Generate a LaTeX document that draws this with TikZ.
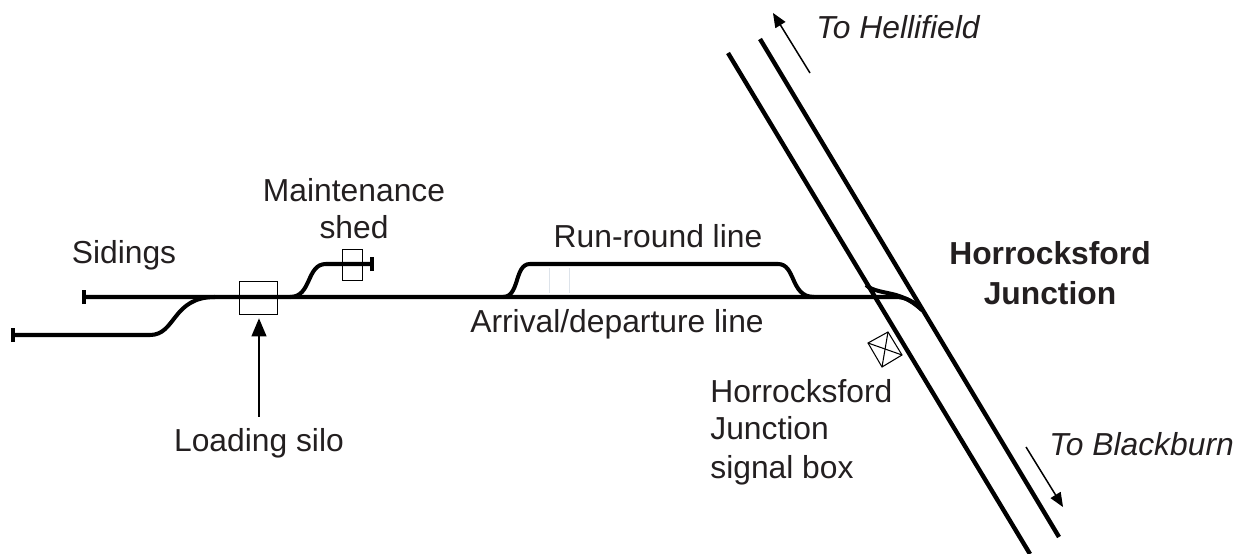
\documentclass[tikz,border=0pt]{standalone}
\usepackage{fontspec}
\setmainfont{Liberation Sans}
\usetikzlibrary{arrows}
\definecolor{inktext}{HTML}{231F20}
\definecolor{faintmark}{HTML}{DDE3EA}

\begin{document}
\begin{tikzpicture}[x=0.02cm, y=-0.02cm, >=triangle 45]
\tikzstyle{every node}=[font=\fontsize{18.1}{20}\selectfont, text=inktext, anchor=base];
\tikzstyle{track}=[line width=2.3pt];
\tikzstyle{mainline}=[line width=2.5pt];
\tikzstyle{stopblock}=[line width=2.5pt];
\tikzstyle{pointer}=[->, line width=0.85pt];
\tikzstyle{building}=[draw, line width=0.55pt, inner sep=0pt, anchor=center];
\useasboundingbox (0,0) rectangle (1244,554);
% tracks
\coordinate (upend1) at (728,53);
\coordinate (downend1) at (1030,554);
\coordinate (upend2) at (760,39);
\coordinate (downend2) at (1059,537);
\coordinate (sidingend) at (84,297);
\coordinate (lowerend) at (13,335);
\coordinate (shedend) at (372,264);
\coordinate (juncend) at (922,310);
\coordinate (juncstart) at (866,285);
\draw [mainline] (upend1) -- (downend1);
\draw [mainline] (upend2) -- (downend2);
\draw [track] (sidingend) -- (895,297) .. controls (907,297) and (914,302) .. (juncend);
\draw [track] (juncstart) .. controls (872,291) and (885,292) .. (896,295) .. controls (906,298) and (913,302) .. (juncend);
\draw [track] (lowerend) -- (150,335) .. controls (176,335) and (172,297) .. (215,297);
\draw [track] (290,297) .. controls (312,297) and (306,264) .. (326,264) -- (shedend);
\draw [track] (503,297) .. controls (520,297) and (514,264) .. (530,264) -- (778,264) .. controls (796,264) and (790,297) .. (814,297);
% stop blocks
\draw [stopblock] ([yshift=-4pt]sidingend) -- ([yshift=4pt]sidingend);
\draw [stopblock] ([yshift=-4pt]lowerend) -- ([yshift=4pt]lowerend);
\draw [stopblock] ([yshift=-4pt]shedend) -- ([yshift=4pt]shedend);
% faint marks
\draw [line width=0.5pt, faintmark] (549,268) -- (549,293);
\draw [line width=0.5pt, faintmark] (569,268) -- (569,293);
% buildings
\node [building, minimum width=38*0.02cm, minimum height=33*0.02cm] (silo) at (258,297.5) {};
\node [building, minimum width=20*0.02cm, minimum height=31*0.02cm] (shed) at (352,264.5) {};
\coordinate (boxa) at (868,343);
\coordinate (boxb) at (888,332);
\coordinate (boxc) at (902,355);
\coordinate (boxd) at (882,367);
\draw [line width=0.6pt] (boxa) -- (boxb) -- (boxc) -- (boxd) -- cycle;
\draw [line width=0.6pt] (boxa) -- (boxc);
\draw [line width=0.6pt] (boxb) -- (boxd);
% labels
\node (sidings) at (124,263) {Sidings};
\node (maint1) at (354,201) {Maintenance};
\node (maint2) at (354,238) {shed};
\node (runround) at (658,247) {Run-round line};
\node (arrival) at (617,332) {Arrival/departure line};
\node (loading) at (259,451) {Loading silo};
\node [anchor=base west, inner sep=0pt] (sigbox1) at (710,402) {Horrocksford};
\node [anchor=base west, inner sep=0pt] (sigbox2) at (710,439) {Junction};
\node [anchor=base west, inner sep=0pt] (sigbox3) at (710,478) {signal box};
\node [font=\fontsize{18.1}{20}\selectfont\bfseries] (junc1) at (1050,264) {Horrocksford};
\node [font=\fontsize{18.1}{20}\selectfont\bfseries] (junc2) at (1050,304) {Junction};
\node [anchor=base west, inner sep=0pt, font=\fontsize{18.1}{20}\selectfont\itshape] (hell) at (816,39) {To Hellifield};
\node [anchor=base west, inner sep=0pt, font=\fontsize{18.1}{20}\selectfont\itshape] (black) at (1049,455) {To Blackburn};
% pointers
\coordinate (hellfrom) at (810,73);
\coordinate (hellto) at (773,13);
\coordinate (blackfrom) at (1026,447);
\coordinate (blackto) at (1063,507);
\draw [pointer] (hellfrom) -- (hellto);
\draw [pointer] (blackfrom) -- (blackto);
\draw [pointer, line width=1.4pt, shorten >=2.2pt] ([yshift=2.8pt]loading.north) -- (loading.north |- silo.south);
\end{tikzpicture}
\end{document}
